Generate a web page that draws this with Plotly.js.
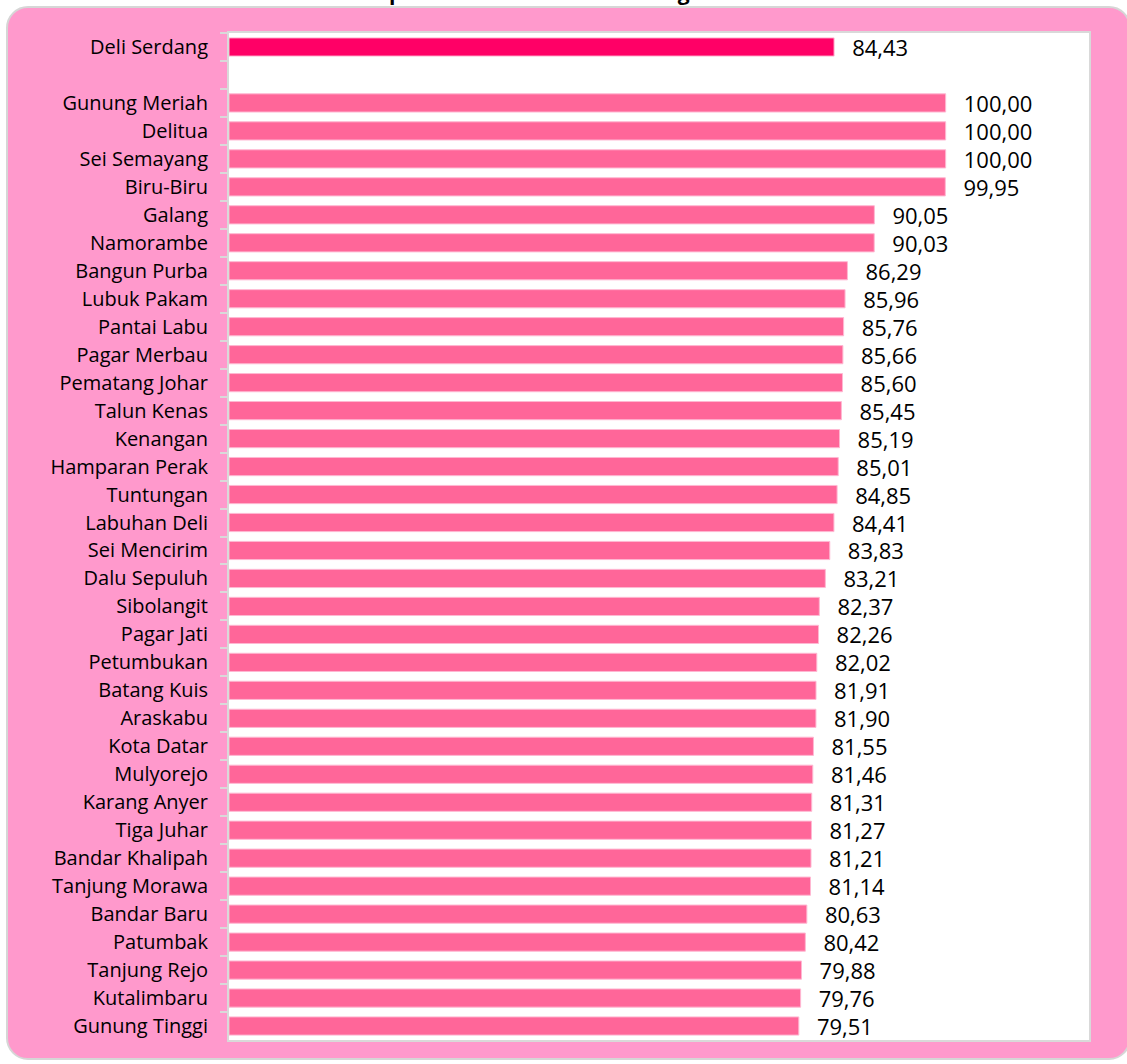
<!DOCTYPE html>
<html>
<head>
<meta charset="utf-8">
<script src="https://cdn.plot.ly/plotly-3.0.1.min.js"></script>
<style>
  html, body { margin: 0; padding: 0; background: #ffffff; }
  #wrap { position: relative; width: 1127px; height: 1064px; overflow: hidden; }
  #frame { position: absolute; left: 6px; top: 6px; width: 1125px; height: 1054px;
           box-sizing: border-box; border: 2px solid #d6d6d6; border-radius: 22px;
           background: #FF99CC; }
  #chart { position: absolute; left: 0; top: 0; width: 1127px; height: 1064px; }
</style>
</head>
<body>
<div id="wrap">
  <div id="frame"></div>
  <div id="chart"></div>
</div>
<script>
const categories = [
  "Deli Serdang", " ",
  "Gunung Meriah", "Delitua", "Sei Semayang", "Biru-Biru", "Galang", "Namorambe",
  "Bangun Purba", "Lubuk Pakam", "Pantai Labu", "Pagar Merbau", "Pematang Johar",
  "Talun Kenas", "Kenangan", "Hamparan Perak", "Tuntungan", "Labuhan Deli",
  "Sei Mencirim", "Dalu Sepuluh", "Sibolangit", "Pagar Jati", "Petumbukan",
  "Batang Kuis", "Araskabu", "Kota Datar", "Mulyorejo", "Karang Anyer",
  "Tiga Juhar", "Bandar Khalipah", "Tanjung Morawa", "Bandar Baru", "Patumbak",
  "Tanjung Rejo", "Kutalimbaru", "Gunung Tinggi"
];
const values = [
  84.43, null,
  100.00, 100.00, 100.00, 99.95, 90.05, 90.03,
  86.29, 85.96, 85.76, 85.66, 85.60,
  85.45, 85.19, 85.01, 84.85, 84.41,
  83.83, 83.21, 82.37, 82.26, 82.02,
  81.91, 81.90, 81.55, 81.46, 81.31,
  81.27, 81.21, 81.14, 80.63, 80.42,
  79.88, 79.76, 79.51
];
const titleText = "Cakupan Kecamatan Deli Serdang";

const colors = categories.map((c, i) => i === 0 ? "#FF0066" : "#FF6699");

const trace = {
  type: "bar",
  orientation: "h",
  y: categories,
  x: values,
  marker: { color: colors, line: { color: "#FFB8D2", width: 1 } },
  texttemplate: "\u00a0\u00a0\u2009%{x:.2f}",
  textposition: "outside",
  constraintext: "none",
  cliponaxis: false,
  textfont: { family: "Open Sans, Noto Sans, sans-serif", size: 22, color: "#000000" },
  hoverinfo: "none"
};

const layout = {
  width: 1127,
  height: 1064,
  separators: ",.",
  paper_bgcolor: "rgba(0,0,0,0)",
  plot_bgcolor: "#ffffff",
  margin: { l: 229, r: 38, t: 33, b: 24, pad: 0 },
  bargap: 0.35,
  showlegend: false,
  annotations: [{
    text: "<b>" + titleText + "</b>",
    font: { family: "Open Sans, sans-serif", size: 21, color: "#000000" },
    xref: "paper", yref: "paper",
    x: 0.330, xanchor: "center",
    y: 1.0248, yanchor: "bottom",
    showarrow: false
  }],
  xaxis: {
    range: [0, 120],
    showgrid: false,
    zeroline: false,
    showticklabels: false,
    ticks: "",
    showline: true, mirror: true, linecolor: "#d9d9d9", linewidth: 2,
    fixedrange: true
  },
  yaxis: {
    type: "category",
    autorange: "reversed",
    tickson: "boundaries",
    ticks: "outside", ticklen: 7, tickcolor: "#d9d9d9", tickwidth: 2,
    ticklabelstandoff: 15,
    showgrid: false,
    zeroline: false,
    showline: true, mirror: true, linecolor: "#d9d9d9", linewidth: 2,
    tickfont: { family: "Open Sans, Noto Sans, sans-serif", size: 20, color: "#000000" },
    fixedrange: true
  }
};

Plotly.newPlot("chart", [trace], layout, { staticPlot: true, displayModeBar: false });
</script>
</body>
</html>
